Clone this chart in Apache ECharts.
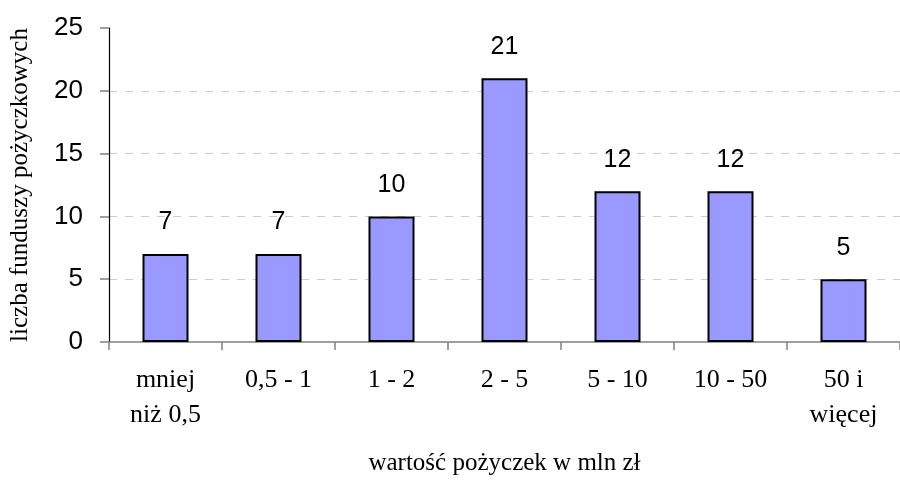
<!DOCTYPE html>
<html>
<head>
<meta charset="utf-8">
<script src="https://cdn.jsdelivr.net/npm/echarts@6/dist/echarts.min.js"></script>
<style>
  html, body { margin: 0; padding: 0; background: #fff; }
  #chart { width: 900px; height: 481px; }
</style>
</head>
<body>
<div id="chart"></div>
<script>
// kategorie i wartości
const categories = ['mniej\nniż 0,5', '0,5 - 1', '1 - 2', '2 - 5', '5 - 10', '10 - 50', '50 i\nwięcej'];
const counts = [7, 7, 10, 21, 12, 12, 5];
const yTicks = [0, 5, 10, 15, 20, 25];

const chart = echarts.init(document.getElementById('chart'));

const option = {
  backgroundColor: '#fff',
  animation: false,
  grid: { left: 109, right: -10, top: 28, bottom: 135 },
  xAxis: {
    type: 'category',
    data: categories,
    name: 'wartość pożyczek w mln zł',
    nameLocation: 'middle',
    nameGap: 109,
    nameTextStyle: { fontFamily: 'Liberation Serif', fontSize: 25, color: '#000' },
    axisLine: { lineStyle: { color: '#808080', width: 1.5 } },
    axisTick: { show: true, length: 8, lineStyle: { color: '#808080', width: 1.5 } },
    axisLabel: {
      interval: 0,
      margin: 21,
      color: '#000',
      fontFamily: 'Liberation Serif',
      fontSize: 26,
      lineHeight: 35
    },
    splitLine: { show: false }
  },
  yAxis: {
    type: 'value',
    min: yTicks[0],
    max: yTicks[yTicks.length - 1],
    interval: 5,
    name: 'liczba funduszy pożyczkowych',
    nameLocation: 'middle',
    nameGap: 76,
    nameTextStyle: { fontFamily: 'Liberation Serif', fontSize: 25, color: '#000' },
    axisLine: { show: true, lineStyle: { color: '#000', width: 1.2 } },
    axisTick: { show: true, length: 9, lineStyle: { color: '#808080', width: 1.5 } },
    axisLabel: {
      margin: 26,
      color: '#000',
      fontFamily: 'Liberation Sans',
      fontSize: 26
    },
    splitLine: {
      show: true,
      showMinLine: false,
      showMaxLine: false,
      lineStyle: { color: '#cccccc', type: [8, 8], width: 1 }
    }
  },
  series: [
    {
      type: 'bar',
      data: counts,
      barWidth: 46,
      itemStyle: { color: '#9999ff', borderColor: '#000', borderWidth: 2 },
      label: {
        show: true,
        position: 'top',
        distance: 19,
        color: '#000',
        fontFamily: 'Liberation Sans',
        fontSize: 25
      }
    }
  ]
};

chart.setOption(option);
</script>
</body>
</html>
